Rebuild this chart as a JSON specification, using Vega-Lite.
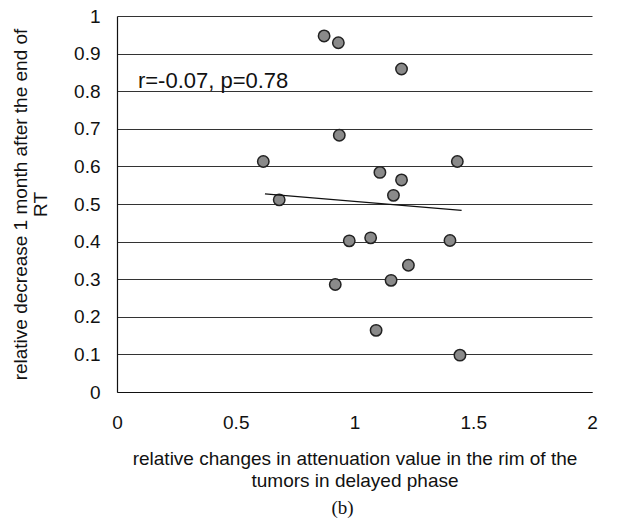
{
  "$schema": "https://vega.github.io/schema/vega-lite/v6.json",
  "autosize": {"type": "none"},
  "width": 475,
  "height": 376,
  "padding": {"left": 117, "top": 16, "right": 40, "bottom": 137},
  "background": "white",
  "config": {
    "view": {"stroke": null},
    "font": "Liberation Sans"
  },
  "title": {
    "text": "(b)",
    "orient": "bottom",
    "font": "Liberation Serif",
    "fontSize": 19,
    "fontWeight": "normal",
    "color": "#111",
    "anchor": "middle",
    "dx": -12,
    "offset": 9
  },
  "datasets": {
    "pts": [
      {"x": 0.872, "y": 0.947},
      {"x": 0.932, "y": 0.929},
      {"x": 1.198, "y": 0.859},
      {"x": 0.936, "y": 0.683},
      {"x": 0.616, "y": 0.613},
      {"x": 1.433, "y": 0.613},
      {"x": 1.107, "y": 0.584},
      {"x": 1.198, "y": 0.564},
      {"x": 1.164, "y": 0.523},
      {"x": 0.683, "y": 0.511},
      {"x": 0.978, "y": 0.402},
      {"x": 1.068, "y": 0.410},
      {"x": 1.402, "y": 0.403},
      {"x": 1.227, "y": 0.337},
      {"x": 1.154, "y": 0.297},
      {"x": 0.919, "y": 0.286},
      {"x": 1.091, "y": 0.164},
      {"x": 1.444, "y": 0.098}
    ],
    "trend": [
      {"x": 0.623, "y": 0.527},
      {"x": 1.451, "y": 0.483}
    ],
    "note": [
      {"x": 0.088, "y": 0.808, "label": "r=-0.07, p=0.78"}
    ]
  },
  "encoding": {
    "x": {
      "field": "x", "type": "quantitative",
      "scale": {"domain": [0, 2], "nice": false, "zero": true},
      "axis": {
        "values": [0, 0.5, 1, 1.5, 2],
        "format": "~g",
        "labelOverlap": false,
        "grid": false,
        "ticks": false,
        "domainColor": "#111",
        "domainWidth": 1.2,
        "labelFont": "Liberation Sans",
        "labelFontSize": 19,
        "labelColor": "#111",
        "labelPadding": 21,
        "labelFlush": false,
        "title": ["relative changes in attenuation value in the rim of the", "tumors in delayed phase"],
        "titleFont": "Liberation Sans",
        "titleFontSize": 19,
        "titleFontWeight": "normal",
        "titleColor": "#111",
        "titleLineHeight": 22,
        "titleBaseline": "top",
        "titleY": 57
      }
    },
    "y": {
      "field": "y", "type": "quantitative",
      "scale": {"domain": [0, 1], "nice": false},
      "axis": {
        "values": [0, 0.1, 0.2, 0.3, 0.4, 0.5, 0.6, 0.7, 0.8, 0.9, 1],
        "format": "~g",
        "labelOverlap": false,
        "grid": true,
        "gridColor": "#333",
        "gridWidth": 1,
        "ticks": false,
        "domainColor": "#111",
        "domainWidth": 1.2,
        "labelFont": "Liberation Sans",
        "labelFontSize": 19,
        "labelColor": "#111",
        "labelPadding": 17,
        "labelFlush": false,
        "title": ["relative decrease 1 month after the end of", "RT"],
        "titleFont": "Liberation Sans",
        "titleFontSize": 19,
        "titleFontWeight": "normal",
        "titleColor": "#111",
        "titleLineHeight": 20,
        "titleBaseline": "top",
        "titleAlign": "center",
        "titleX": -106,
        "titleY": 188
      }
    }
  },
  "layer": [
    {
      "data": {"name": "pts"},
      "mark": {"type": "point", "filled": true, "shape": "circle", "size": 130, "fill": "#8a8a8a", "stroke": "#222", "strokeWidth": 1.5, "opacity": 1}
    },
    {
      "data": {"name": "trend"},
      "mark": {"type": "line", "color": "#111", "strokeWidth": 1.2}
    },
    {
      "data": {"name": "note"},
      "mark": {"type": "text", "align": "left", "baseline": "alphabetic", "font": "Liberation Sans", "fontSize": 22, "color": "#111"},
      "encoding": {
        "text": {"field": "label"}
      }
    }
  ]
}
